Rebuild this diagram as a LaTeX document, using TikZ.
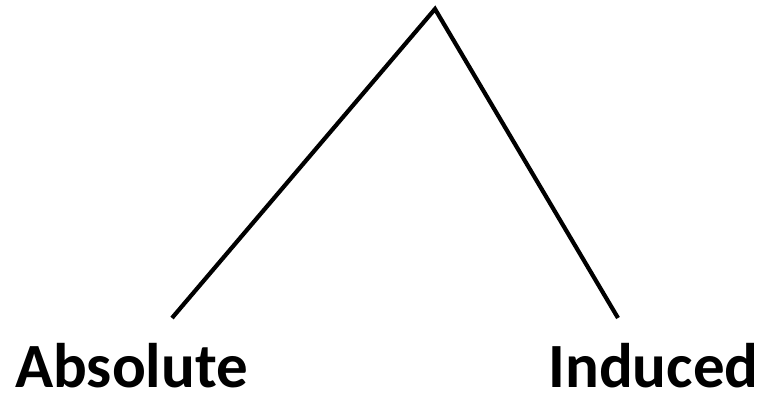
\documentclass[tikz,border=0pt]{standalone}
\usepackage{fontspec}
\setmainfont{Carlito}
\usepackage{tikz}
\usetikzlibrary{positioning}

\begin{document}
\begin{tikzpicture}[x=1pt,y=-1pt,
        edge/.style={draw=black,line width=4.2pt},
        lbl/.style={font=\bfseries\fontsize{63}{66}\selectfont,inner sep=0pt,anchor=base}]
        \useasboundingbox (0,0) rectangle (761,395);
        \coordinate (top) at (435,9);
        \coordinate (l) at (172,318);
        \coordinate (r) at (618,318);
        \node[lbl] (abs) at (131.5,388) {Absolute};
        \node[lbl] (ind) at (653.5,388) {Induced};
        \draw[edge] (l)--(top)--(r);
      \end{tikzpicture}
\end{document}
